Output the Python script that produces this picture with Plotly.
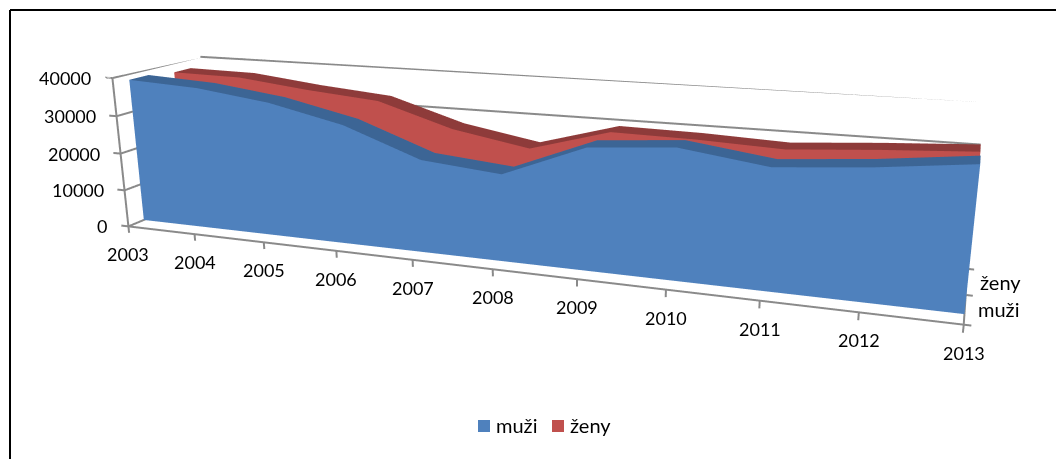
import numpy as np
import plotly.graph_objects as go

years = [2003, 2004, 2005, 2006, 2007, 2008, 2009, 2010, 2011, 2012, 2013]
muzi = [38500, 37500, 35000, 30700, 23500, 21700, 29800, 31400, 28600, 30300, 32700]
zeny = [37500, 37200, 35000, 33300, 27300, 23800, 29500, 29200, 28400, 29900, 31100]
z_ticks = [0, 10000, 20000, 30000, 40000]
series_names = ["muži", "ženy"]
series_bands = [(0.34, 0.76), (1.34, 1.74)]
series_colors = ["#4F81BD", "#C0504D"]
top_colors = ["#3C6595", "#8E3B3A"]
depth_ticks = [0, 1, 2]

W, H_PAGE = 1056, 459
H = 980          # scene height that gives the 3D view its long focal length
TOP = -269       # page offset of the figure
post = ("document.body.style.margin='0';document.body.style.overflow='hidden';"
        "document.documentElement.style.overflow='hidden';"
        "document.querySelector('.plotly-graph-div').style.marginTop='%dpx';" % TOP)
def py(y):
    return 1 - (y - TOP) / H

x0, x1, y0, y1 = years[0], years[-1], depth_ticks[0], depth_ticks[-1]
z1 = z_ticks[-1]

# camera (yaw, pitch, roll, shift, distance) and box proportions
yaw, pitch, roll, tx, ty, d, ax, ay = -0.363, 0.29, -0.007, -0.046, 0.32, 7.302, 5.271, 0.944
fw = np.array([np.sin(yaw)*np.cos(pitch), np.cos(yaw)*np.cos(pitch), -np.sin(pitch)])
r = np.array([fw[1], -fw[0], 0.0]); r /= np.hypot(r[0], r[1]); u = np.cross(r, fw)
r2 = np.cos(roll)*r + np.sin(roll)*u; u2 = -np.sin(roll)*r + np.cos(roll)*u
eye = -tx*r2 - ty*u2 - d*fw
center = eye + d*fw
# ranges are widened so that tick marks outside the box are not clipped; view is kept
rng_core = np.array([[x0, x1], [y0, y1], [0, z1]], float)
rng = np.array([[x0-0.15, x1+0.1], [y0, y1], [-2000, z1]], float)
unit = np.array([ax, ay, 1.0]) / (rng_core[:, 1]-rng_core[:, 0])
aspect = (rng[:, 1]-rng[:, 0]) * unit
shift = (rng_core.mean(axis=1)-rng.mean(axis=1)) * unit
eye = eye + shift
center = center + shift

def ribbon(values, b0, b1):
    X, Y, Z = [], [], []
    for yr, v in zip(years, values):
        X += [yr]*4; Y += [b0, b0, b1, b1]; Z += [0, v, v, 0]
    face, top = [], []
    for k in range(len(years)-1):
        a = 4*k; b = a+4
        face += [(a, a+1, b+1), (a, b+1, b), (a+3, a+2, b+2), (a+3, b+2, b+3)]
        top += [(a+1, a+2, b+2), (a+1, b+2, b+1)]
    n = 4*(len(years)-1)
    face += [(0, 1, 2), (0, 2, 3), (n, n+1, n+2), (n, n+2, n+3)]
    return X, Y, Z, face, top

fig = go.Figure()
GREY = "#8A8A8A"
lx, ly, lz = [], [], []
def seg(p, q):
    lx.extend([p[0], q[0], None]); ly.extend([p[1], q[1], None]); lz.extend([p[2], q[2], None])
for t in z_ticks:
    seg((x0, y0, t), (x0, y1, t)); seg((x0, y1, t), (x1, y1, t))
    seg((x0, y0, t), (x0-0.11, y0, t))
seg((x0, y0, 0), (x1, y0, 0)); seg((x0, y0, 0), (x0, y0, z1)); seg((x1, y0, 0), (x1, y1, 0))
for yr in years:
    seg((yr, y0, 0), (yr, y0, -1800))
for t in depth_ticks:
    seg((x1, t, 0), (x1+0.07, t, 0))
fig.add_trace(go.Scatter3d(x=lx, y=ly, z=lz, mode="lines", line=dict(color=GREY, width=4),
                           showlegend=False, hoverinfo="skip"))
for vals, name, (b0, b1), c1, c2 in zip([muzi, zeny], series_names, series_bands, series_colors, top_colors):
    X, Y, Z, face, top = ribbon(vals, b0, b1)
    for tris, c in ((face, c1), (top, c2)):
        i, j, k = zip(*tris)
        fig.add_trace(go.Mesh3d(x=X, y=Y, z=Z, i=i, j=j, k=k, color=c, name=name, showlegend=False, flatshading=True,
                                lighting=dict(ambient=1, diffuse=0, specular=0, fresnel=0), hoverinfo="skip"))
FONT = dict(family="Lato", size=18, color="#000")
FONT2 = dict(family="Lato", size=20, color="#000")
ann = []
for yr in years:
    ann.append(dict(x=yr, y=y0, z=0, text=str(yr), showarrow=False, yanchor="middle", yshift=-28, font=FONT))
for t in z_ticks:
    ann.append(dict(x=x0, y=y0, z=t, text=str(t), showarrow=False, xanchor="right", yanchor="middle", xshift=-19, font=FONT))
for yy, n in zip([0.5, 1.5], series_names):
    ann.append(dict(x=x1, y=yy, z=0, text=n, showarrow=False, xanchor="left", yanchor="middle", xshift=11, font=FONT2))
axc = dict(showbackground=False, title="", showspikes=False, showticklabels=False, showgrid=False, zeroline=False, showline=False, ticks="")
shapes = [dict(type="line", xref="paper", yref="paper", x0=10/W, x1=10/W, y0=py(470), y1=py(10), line=dict(color="#000", width=2)),
          dict(type="line", xref="paper", yref="paper", x0=10/W, x1=1, y0=py(10), y1=py(10), line=dict(color="#000", width=2))]
legend_ann = []
for name, c, sx, tx_ in zip(series_names, series_colors, [478, 552], [495, 569]):
    shapes.append(dict(type="rect", xref="paper", yref="paper", x0=sx/W, x1=(sx+12)/W, y0=py(432), y1=py(420), line=dict(width=0), fillcolor=c))
    legend_ann.append(dict(xref="paper", yref="paper", x=tx_/W, y=py(425), text=name, showarrow=False, xanchor="left", yanchor="middle", font=FONT2, borderpad=0))
fig.update_layout(
    width=W, height=H, margin=dict(l=0, r=0, t=0, b=0), paper_bgcolor="white", showlegend=False,
    scene=dict(domain=dict(x=[0, 1], y=[0, 1]), aspectmode="manual",
               aspectratio=dict(x=aspect[0], y=aspect[1], z=aspect[2]),
               camera=dict(eye=dict(x=eye[0], y=eye[1], z=eye[2]), center=dict(x=center[0], y=center[1], z=center[2]), up=dict(x=u2[0], y=u2[1], z=u2[2])),
               xaxis=dict(axc, range=list(rng[0])), yaxis=dict(axc, range=list(rng[1])), zaxis=dict(axc, range=list(rng[2])),
               annotations=ann),
    shapes=shapes, annotations=legend_ann)
fig.write_html("out.html", post_script=post)
